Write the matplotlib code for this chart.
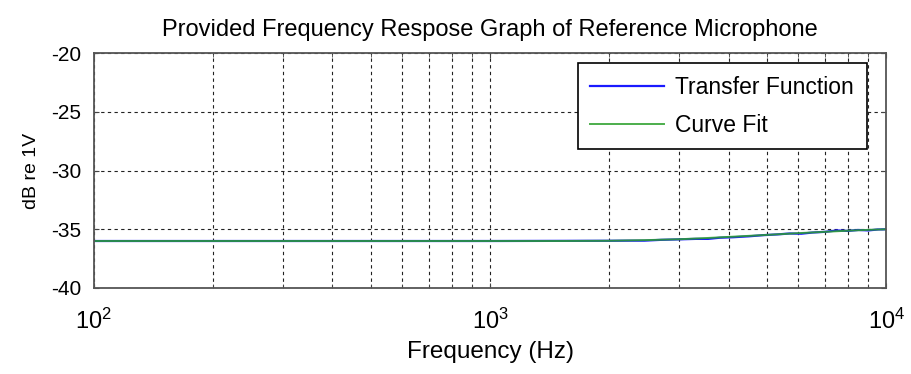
import numpy as np
import matplotlib.pyplot as plt
from matplotlib.ticker import LogLocator, NullFormatter

plt.rcParams["font.family"] = ["Liberation Sans", "DejaVu Sans"]
plt.rcParams["axes.unicode_minus"] = False

# curve fit (Hz, dB re 1V)
fit_freq = [100, 200, 500, 1000, 1500, 2000, 2500, 3000, 3500, 4000, 5000,
            6000, 7000, 8000, 9000, 10000]
fit_db = [-36.0, -36.0, -36.0, -36.0, -36.0, -35.98, -35.92, -35.85, -35.75,
          -35.65, -35.48, -35.33, -35.22, -35.12, -35.05, -35.0]

# measured transfer function
tf_freq = [100, 500, 1000, 2000, 2250, 2450, 2700, 3000, 3300, 3550, 3800,
           4100, 4500, 4900, 5300, 5700, 6100, 6500, 7000, 7500, 8000, 8500,
           9000, 9500, 10000]
tf_db = [-36.0, -36.0, -36.0, -35.98, -35.97, -35.97, -35.9, -35.86, -35.82,
         -35.82, -35.72, -35.68, -35.6, -35.5, -35.44, -35.36, -35.38, -35.28,
         -35.22, -35.1, -35.14, -35.06, -35.1, -35.02, -35.0]

fig = plt.figure(figsize=(9.11, 3.74), dpi=100)
ax = fig.add_axes([0.103, 0.23, 0.870, 0.628])

ax.plot(tf_freq, tf_db, color="#1a1aff", lw=1.6, label="Transfer Function")
ax.plot(fit_freq, fit_db, color="#2ca02c", lw=1.4, label="Curve Fit", alpha=0.85)

ax.set_xscale("log")
ax.set_xlim(100, 10000)
ax.set_ylim(-40, -20)
ax.set_yticks([-40, -35, -30, -25, -20])
ax.xaxis.set_major_locator(LogLocator(base=10, numticks=5))
ax.xaxis.set_minor_locator(LogLocator(base=10, subs=np.arange(2, 10), numticks=20))
ax.xaxis.set_minor_formatter(NullFormatter())

ax.grid(True, which="both", color="#222222", lw=0.8, ls=(0, (3, 3)))
ax.tick_params(which="both", direction="in", top=True, right=True,
               labelsize=15, color="#444444")
ax.tick_params(axis="x", which="major", pad=15, labelsize=17)
ax.tick_params(axis="y", pad=9)
ax.tick_params(which="minor", length=3)
for sp in ax.spines.values():
    sp.set_color("#555555")
    sp.set_linewidth(1.3)

ax.set_xlabel("Frequency (Hz)", fontsize=17.5, labelpad=5)
ax.set_ylabel("dB re 1V", fontsize=14, labelpad=8)
ax.set_title("Provided Frequency Respose Graph of Reference Microphone",
             fontsize=17, pad=12)

leg = ax.legend(loc="upper right", bbox_to_anchor=(0.975, 0.957), fontsize=16.5,
                borderaxespad=0, fancybox=False, edgecolor="black", framealpha=1,
                handlelength=3.2, borderpad=0.55, labelspacing=0.65,
                handletextpad=0.5)
leg.get_frame().set_linewidth(1.2)

fig.savefig("out.png", dpi=100)
